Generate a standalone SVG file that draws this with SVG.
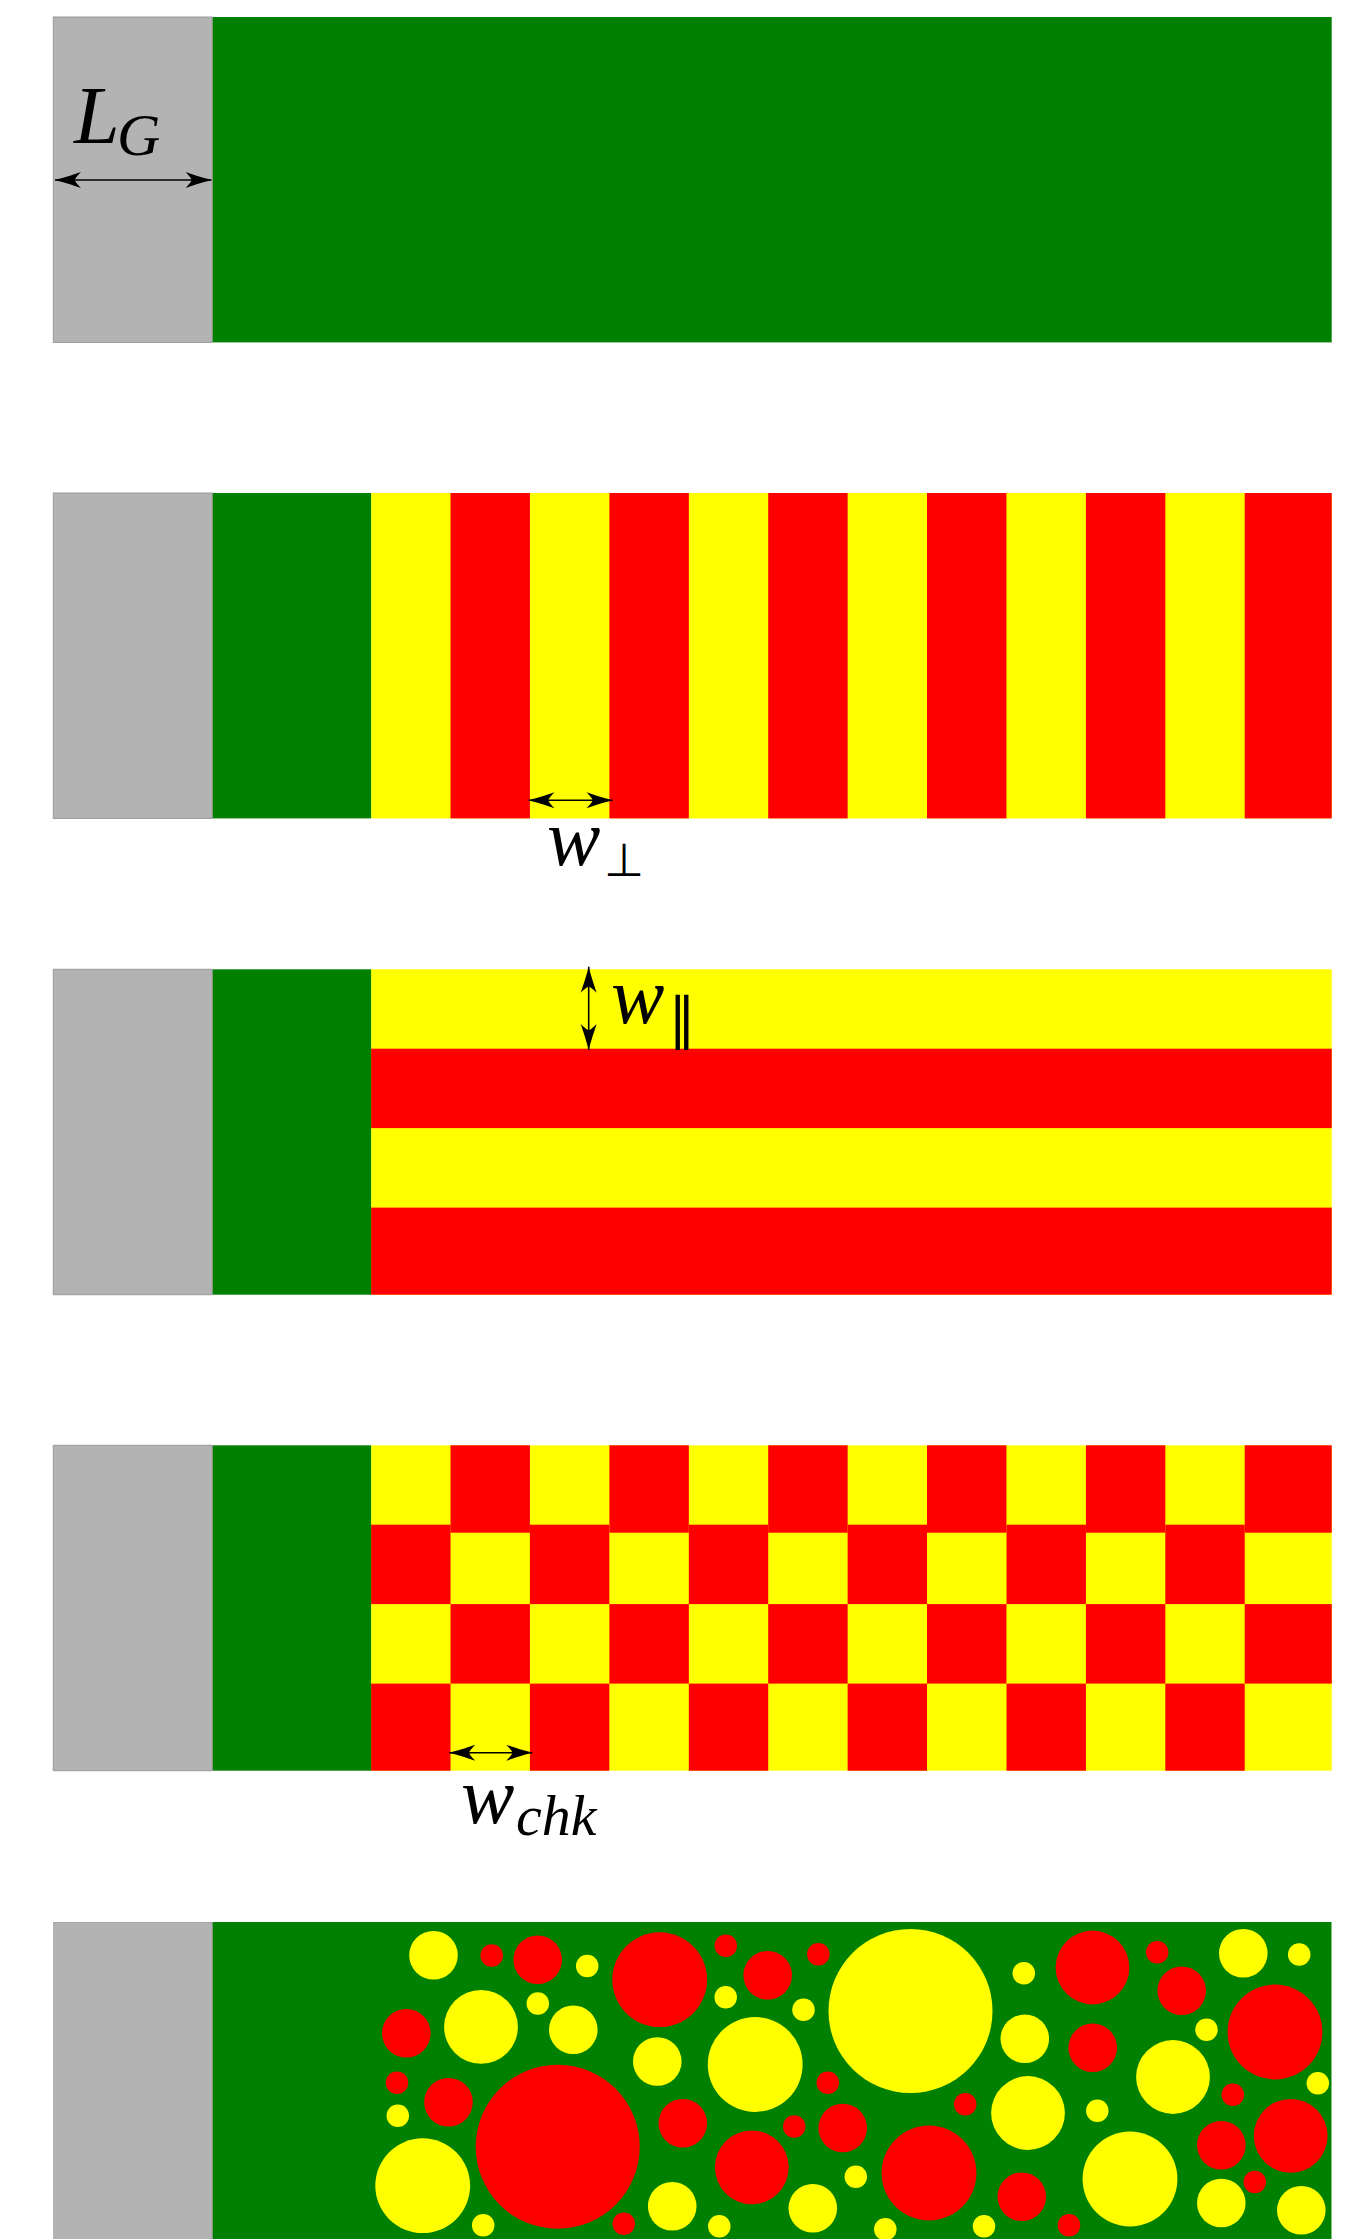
<svg xmlns="http://www.w3.org/2000/svg" width="1363" height="2239" viewBox="0 0 1363 2239">
<style>
.g{fill:#b3b3b3;stroke:#999;stroke-width:1}
.gr{fill:#008000}
.y{fill:#ffff00}
.r{fill:#ff0000}
.arr{stroke:#000;stroke-width:1.6;fill:none;marker-start:url(#ah);marker-end:url(#ah)}
.m{font-family:"Liberation Serif","Times New Roman",serif;font-style:italic;fill:#000}
.sym{font-family:"DejaVu Sans",sans-serif;font-style:normal;fill:#000}
</style>
<defs>
<marker id="ah" viewBox="-27 -9 28 18" refX="0" refY="0" markerWidth="28" markerHeight="18" markerUnits="userSpaceOnUse" orient="auto-start-reverse">
<path d="M0,0 C-6,-1.5 -16,-4.5 -26,-8 C-21,-3 -20,-1 -20,0 C-20,1 -21,3 -26,8 C-16,4.5 -6,1.5 0,0 Z" fill="#000"/>
</marker>
<clipPath id="clip5"><rect x="53.3" y="1922" width="1278.4" height="325.4"/></clipPath>
</defs>

<g id="panel1">
<rect class="gr" x="212.2" y="17" width="1119.5" height="325.4"/>
<rect class="g" x="53.3" y="17" width="158.9" height="325.4"/>
</g>

<g id="panel2">
<rect class="y" x="371.1" y="493" width="960.6" height="325.4"/>
<g class="r">
<rect x="450.5" y="493" width="79.42" height="325.4"/>
<rect x="609.4" y="493" width="79.42" height="325.4"/>
<rect x="768.2" y="493" width="79.42" height="325.4"/>
<rect x="927.0" y="493" width="79.42" height="325.4"/>
<rect x="1085.9" y="493" width="79.42" height="325.4"/>
<rect x="1244.7" y="493" width="87.0" height="325.4"/>
</g>
<rect class="gr" x="212.2" y="493" width="158.9" height="325.4"/>
<rect class="g" x="53.3" y="493" width="158.9" height="325.4"/>
</g>

<g id="panel3">
<rect class="y" x="371.1" y="969.3" width="960.6" height="325.4"/>
<rect class="r" x="371.1" y="1048.7" width="960.6" height="79.4"/>
<rect class="r" x="371.1" y="1207.6" width="960.6" height="87.1"/>
<rect class="gr" x="212.2" y="969.3" width="158.9" height="325.4"/>
<rect class="g" x="53.3" y="969.3" width="158.9" height="325.4"/>
</g>

<g id="panel4">
<rect class="y" x="371.1" y="1445.3" width="960.6" height="325.4"/>
<g class="r">
<rect x="450.5" y="1445.3" width="79.42" height="87.4"/>
<rect x="609.4" y="1445.3" width="79.42" height="87.4"/>
<rect x="768.2" y="1445.3" width="79.42" height="87.4"/>
<rect x="927.0" y="1445.3" width="79.42" height="87.4"/>
<rect x="1085.9" y="1445.3" width="79.42" height="87.4"/>
<rect x="1244.7" y="1445.3" width="87.0" height="87.4"/>
<rect x="371.1" y="1524.7" width="79.42" height="79.4"/>
<rect x="529.9" y="1524.7" width="79.42" height="79.4"/>
<rect x="688.8" y="1524.7" width="79.42" height="79.4"/>
<rect x="847.6" y="1524.7" width="79.42" height="79.4"/>
<rect x="1006.5" y="1524.7" width="79.42" height="79.4"/>
<rect x="1165.3" y="1524.7" width="79.42" height="79.4"/>
<rect x="450.5" y="1604.1" width="79.42" height="79.5"/>
<rect x="609.4" y="1604.1" width="79.42" height="79.5"/>
<rect x="768.2" y="1604.1" width="79.42" height="79.5"/>
<rect x="927.0" y="1604.1" width="79.42" height="79.5"/>
<rect x="1085.9" y="1604.1" width="79.42" height="79.5"/>
<rect x="1244.7" y="1604.1" width="87.0" height="79.5"/>
<rect x="371.1" y="1683.6" width="79.42" height="87.1"/>
<rect x="529.9" y="1683.6" width="79.42" height="87.1"/>
<rect x="688.8" y="1683.6" width="79.42" height="87.1"/>
<rect x="847.6" y="1683.6" width="79.42" height="87.1"/>
<rect x="1006.5" y="1683.6" width="79.42" height="87.1"/>
<rect x="1165.3" y="1683.6" width="79.42" height="87.1"/>
</g>
<rect class="gr" x="212.2" y="1445.3" width="158.9" height="325.4"/>
<rect class="g" x="53.3" y="1445.3" width="158.9" height="325.4"/>
</g>

<g id="panel5" clip-path="url(#clip5)">
<rect class="gr" x="212.2" y="1922" width="1119.5" height="325.4"/>
<rect class="g" x="53.3" y="1922" width="158.9" height="325.4"/>
<g class="y">
<circle cx="433.5" cy="1955.2" r="24.3"/>
<circle cx="587.2" cy="1966" r="11.25"/>
<circle cx="910.5" cy="2011" r="82"/>
<circle cx="481" cy="2026.8" r="36.9"/>
<circle cx="537.8" cy="2003.5" r="11.25"/>
<circle cx="573.3" cy="2029.8" r="24.3"/>
<circle cx="725.7" cy="1997.3" r="11.25"/>
<circle cx="803.5" cy="2009.8" r="11.25"/>
<circle cx="657.3" cy="2061.5" r="24.3"/>
<circle cx="755.2" cy="2064.5" r="47.4"/>
<circle cx="397.8" cy="2115.8" r="11.25"/>
<circle cx="422.7" cy="2185.7" r="47.4"/>
<circle cx="483.2" cy="2225.2" r="11.25"/>
<circle cx="672.2" cy="2206.2" r="24.3"/>
<circle cx="719.3" cy="2226.3" r="11.25"/>
<circle cx="812.8" cy="2208.2" r="24.3"/>
<circle cx="855.8" cy="2176.8" r="11.25"/>
<circle cx="1023.8" cy="1973.2" r="11.25"/>
<circle cx="1243.3" cy="1953.2" r="24.3"/>
<circle cx="1299.2" cy="1954.5" r="11.25"/>
<circle cx="1024.8" cy="2038.8" r="24.3"/>
<circle cx="1206.5" cy="2029.8" r="11.25"/>
<circle cx="1173" cy="2077" r="36.9"/>
<circle cx="1317.8" cy="2083.3" r="11.25"/>
<circle cx="1028" cy="2113" r="36.9"/>
<circle cx="1097.3" cy="2110.7" r="11.25"/>
<circle cx="1130" cy="2179" r="47.4"/>
<circle cx="1221.3" cy="2203" r="24.3"/>
<circle cx="1301.3" cy="2210.3" r="24.3"/>
<circle cx="885.3" cy="2229.2" r="11.25"/>
<circle cx="984" cy="2226.2" r="11.25"/>
</g>
<g class="r">
<circle cx="491.7" cy="1955.5" r="11.25"/>
<circle cx="537.7" cy="1959.7" r="24.3"/>
<circle cx="659.7" cy="1979.7" r="47.4"/>
<circle cx="725.8" cy="1945.7" r="11.25"/>
<circle cx="767.7" cy="1975.3" r="24.3"/>
<circle cx="818.3" cy="1954.2" r="11.25"/>
<circle cx="406.3" cy="2033.2" r="24.3"/>
<circle cx="397" cy="2082.7" r="11.25"/>
<circle cx="448.5" cy="2102.3" r="24.3"/>
<circle cx="557.7" cy="2146.7" r="82"/>
<circle cx="682.8" cy="2123.3" r="24.3"/>
<circle cx="827.8" cy="2082.7" r="11.25"/>
<circle cx="794.2" cy="2126.5" r="11.25"/>
<circle cx="842.7" cy="2128" r="24.3"/>
<circle cx="751.8" cy="2167.3" r="36.9"/>
<circle cx="623.8" cy="2223.8" r="11.25"/>
<circle cx="1092.5" cy="1967.5" r="36.9"/>
<circle cx="1157.2" cy="1952.2" r="11.25"/>
<circle cx="1181.7" cy="1990.8" r="24.3"/>
<circle cx="1092.7" cy="2047.8" r="24.3"/>
<circle cx="1275" cy="2032" r="47.4"/>
<circle cx="965.2" cy="2104.3" r="11.25"/>
<circle cx="1232.8" cy="2094.8" r="11.25"/>
<circle cx="1290.7" cy="2135.8" r="36.9"/>
<circle cx="1221.3" cy="2145.3" r="24.3"/>
<circle cx="929" cy="2173" r="47.4"/>
<circle cx="1021.8" cy="2196.7" r="24.3"/>
<circle cx="1254.8" cy="2182" r="11.25"/>
<circle cx="1069" cy="2225.2" r="11.25"/>
</g>
</g>

<g id="connectors">
<line class="arr" x1="55" y1="180" x2="211.5" y2="180"/>
<line class="arr" x1="528.5" y1="800.3" x2="612.5" y2="800.3"/>
<line class="arr" x1="588.7" y1="966.7" x2="588.7" y2="1050"/>
<line class="arr" x1="449.3" y1="1752.7" x2="532.3" y2="1752.7"/>
</g>

<g id="labels">
<text class="m"><tspan x="74" y="143" font-size="82">L</tspan><tspan x="117" y="155" font-size="60">G</tspan></text>
<text class="m"><tspan x="547" y="865" font-size="80">w</tspan><tspan class="sym" x="604" y="876" font-size="46">⊥</tspan></text>
<text class="m"><tspan x="611" y="1023" font-size="80">w</tspan><tspan class="sym" x="668" y="1038" font-size="56">∥</tspan></text>
<text class="m"><tspan x="461" y="1823" font-size="80">w</tspan><tspan x="516" y="1835" font-size="58">chk</tspan></text>
</g>
</svg>
